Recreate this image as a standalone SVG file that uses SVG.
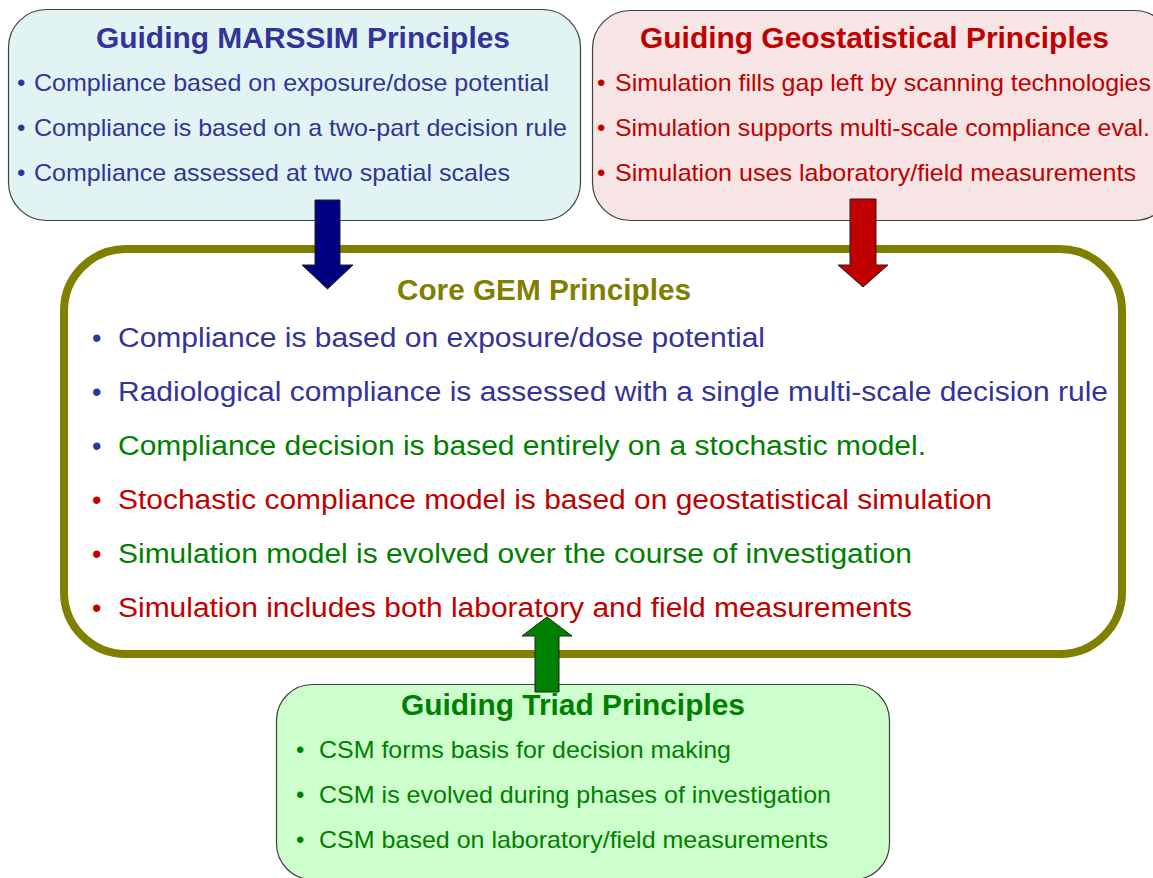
<svg xmlns="http://www.w3.org/2000/svg" width="1153" height="878" viewBox="0 0 1153 878">
<style>
text{font-family:"Liberation Sans",Arial,sans-serif}
.t{font-weight:bold;font-size:29px;text-anchor:start}
.s{font-size:24px}
.c{font-size:27px}
.box{stroke:#404040;stroke-width:1.2}
.blue{fill:#333399}
.red{fill:#C00000}
.green{fill:#008000}
.olive{fill:#808000}
.arr{stroke:#202020;stroke-width:1}
</style>
<rect width="1153" height="878" fill="#FFFFFF"/>
<g id="marssim">
<rect class="box" x="8.5" y="9.5" width="572" height="211" rx="38" fill="#E2F3F3"/>
<text class="t blue" x="96" y="48" textLength="414" lengthAdjust="spacingAndGlyphs">Guiding MARSSIM Principles</text>
<text class="s blue" x="17" y="91">•</text>
<text class="s blue" x="34" y="91" textLength="515" lengthAdjust="spacingAndGlyphs">Compliance based on exposure/dose potential</text>
<text class="s blue" x="17" y="136">•</text>
<text class="s blue" x="34" y="136" textLength="533" lengthAdjust="spacingAndGlyphs">Compliance is based on a two-part decision rule</text>
<text class="s blue" x="17" y="181">•</text>
<text class="s blue" x="34" y="181" textLength="476" lengthAdjust="spacingAndGlyphs">Compliance assessed at two spatial scales</text>
</g>
<g id="geostat">
<rect class="box" x="592.5" y="10.5" width="580" height="210" rx="38" fill="#F7E4E4"/>
<text class="t red" x="640" y="48" textLength="469" lengthAdjust="spacingAndGlyphs">Guiding Geostatistical Principles</text>
<text class="s red" x="597" y="91">•</text>
<text class="s red" x="615" y="91" textLength="536" lengthAdjust="spacingAndGlyphs">Simulation fills gap left by scanning technologies</text>
<text class="s red" x="597" y="136">•</text>
<text class="s red" x="615" y="136" textLength="535" lengthAdjust="spacingAndGlyphs">Simulation supports multi-scale compliance eval.</text>
<text class="s red" x="597" y="181">•</text>
<text class="s red" x="615" y="181" textLength="521" lengthAdjust="spacingAndGlyphs">Simulation uses laboratory/field measurements</text>
</g>
<g id="core">
<rect x="64" y="249" width="1058" height="405" rx="62" fill="#FFFFFF" stroke="#808000" stroke-width="8"/>
<text class="t olive" x="397" y="300" textLength="294" lengthAdjust="spacingAndGlyphs">Core GEM Principles</text>
<text class="c blue" x="92" y="347">•</text>
<text class="c blue" x="118" y="347" textLength="647" lengthAdjust="spacingAndGlyphs">Compliance is based on exposure/dose potential</text>
<text class="c blue" x="92" y="401">•</text>
<text class="c blue" x="118" y="401" textLength="990" lengthAdjust="spacingAndGlyphs">Radiological compliance is assessed with a single multi-scale decision rule</text>
<text class="c blue" x="92" y="455">•</text>
<text class="c green" x="118" y="455" textLength="808" lengthAdjust="spacingAndGlyphs">Compliance decision is based entirely on a stochastic model.</text>
<text class="c red" x="92" y="509">•</text>
<text class="c red" x="118" y="509" textLength="874" lengthAdjust="spacingAndGlyphs">Stochastic compliance model is based on geostatistical simulation</text>
<text class="c red" x="92" y="563">•</text>
<text class="c green" x="118" y="563" textLength="794" lengthAdjust="spacingAndGlyphs">Simulation model is evolved over the course of investigation</text>
<text class="c red" x="92" y="617">•</text>
<text class="c red" x="118" y="617" textLength="794" lengthAdjust="spacingAndGlyphs">Simulation includes both laboratory and field measurements</text>
</g>
<g id="triad">
<rect class="box" x="276.5" y="684.5" width="613" height="195" rx="36" fill="#CCFFCC"/>
<text class="t green" x="401" y="715" textLength="344" lengthAdjust="spacingAndGlyphs">Guiding Triad Principles</text>
<text class="s green" x="296" y="758">•</text>
<text class="s green" x="319" y="758" textLength="412" lengthAdjust="spacingAndGlyphs">CSM forms basis for decision making</text>
<text class="s green" x="296" y="803">•</text>
<text class="s green" x="319" y="803" textLength="512" lengthAdjust="spacingAndGlyphs">CSM is evolved during phases of investigation</text>
<text class="s green" x="296" y="848">•</text>
<text class="s green" x="319" y="848" textLength="509" lengthAdjust="spacingAndGlyphs">CSM based on laboratory/field measurements</text>
</g>
<g id="connectors">
<polygon class="arr" fill="#000080" points="315,200 340,200 340,265 353,265 327.5,289 302,265 315,265"/>
<polygon class="arr" fill="#C00000" points="850,199 876,199 876,265 888,265 863,287 838,265 850,265"/>
<polygon class="arr" fill="#008000" points="535,692 559,692 559,636 572,636 547,617 522,636 535,636"/>
</g>
</svg>
